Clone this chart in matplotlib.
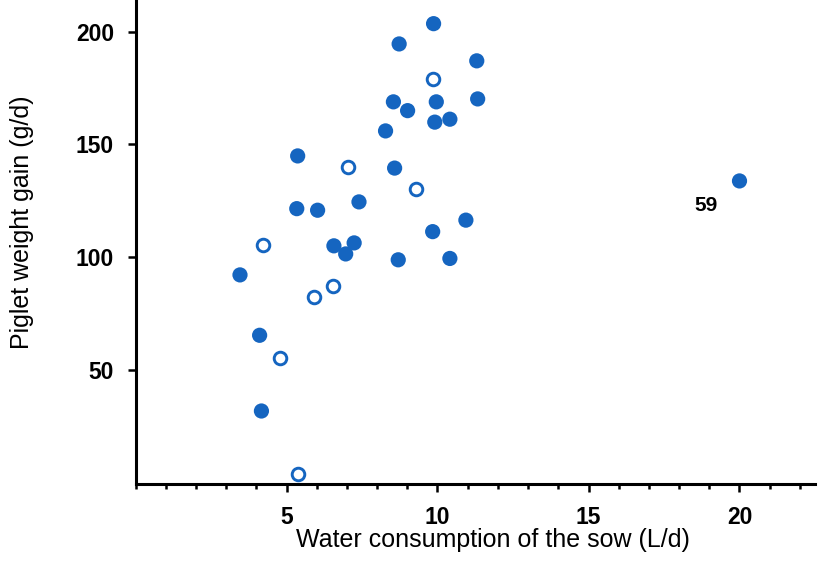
import matplotlib
matplotlib.use("Agg")
import matplotlib.pyplot as plt
from matplotlib.ticker import MultipleLocator

plt.rcParams['font.family'] = ['Liberation Sans', 'DejaVu Sans']

# filled points (water L/d, piglet gain g/d)
water_filled = [9.87, 8.73, 11.30, 8.54, 9.96, 11.33, 9.01, 9.91, 10.41, 8.28,
                5.37, 8.58, 5.34, 6.03, 7.40, 10.94, 9.84, 6.57, 7.24, 6.96,
                8.70, 10.41, 3.46, 4.11, 4.17, 20.0]
gain_filled = [203.5, 194.5, 187.0, 168.8, 168.8, 170.1, 164.9, 159.8, 161.1, 155.9,
               144.8, 139.4, 121.4, 120.7, 124.4, 116.3, 111.2, 104.9, 106.2, 101.3,
               98.7, 99.3, 92.0, 65.2, 31.6, 133.7]

# open points
water_open = [9.84, 7.05, 9.30, 4.22, 6.55, 5.92, 4.79, 5.37]
gain_open = [178.9, 139.8, 130.0, 105.3, 87.1, 82.4, 55.0, 3.7]

outlier_label = "59"
outlier_label_pos = (18.9, 122.6)

blue = '#1565C0'

fig = plt.figure(figsize=(8.2, 5.75), dpi=100)
ax = fig.add_axes([135.5 / 820, 1 - 484 / 575, (815 - 135.5) / 820, 484 / 575])

ax.scatter(water_filled, gain_filled, s=120, color=blue, edgecolors='none', zorder=3)
ax.scatter(water_open, gain_open, s=82, facecolors='white', edgecolors=blue,
           linewidths=2.1, zorder=3)
ax.text(outlier_label_pos[0], outlier_label_pos[1], outlier_label, fontsize=15,
        fontweight='bold', ha='center', va='center')

ax.set_xlim(0, 22.5)
ax.set_ylim(-0.8, 214)
ax.set_xticks([5, 10, 15, 20])
ax.xaxis.set_minor_locator(MultipleLocator(1))
ax.set_yticks([50, 100, 150, 200])

for side in ['top', 'right']:
    ax.spines[side].set_visible(False)
for side in ['left', 'bottom']:
    ax.spines[side].set_linewidth(2.2)

ax.tick_params(axis='both', which='major', length=5.5, width=1.8, labelsize=16.5, pad=10)
ax.tick_params(axis='x', which='minor', length=3.5, width=1.8)
for lab in ax.get_xticklabels() + ax.get_yticklabels():
    lab.set_fontweight('bold')

ax.set_xlabel('Water consumption of the sow (L/d)', fontsize=18)
ax.set_ylabel('Piglet weight gain (g/d)', fontsize=18)
ax.xaxis.set_label_coords((493 - 135.5) / (815 - 135.5), -0.091)
ax.yaxis.set_label_coords(-(135.5 - 34) / 679.5, 0.541)

fig.savefig('out.png', dpi=100)
